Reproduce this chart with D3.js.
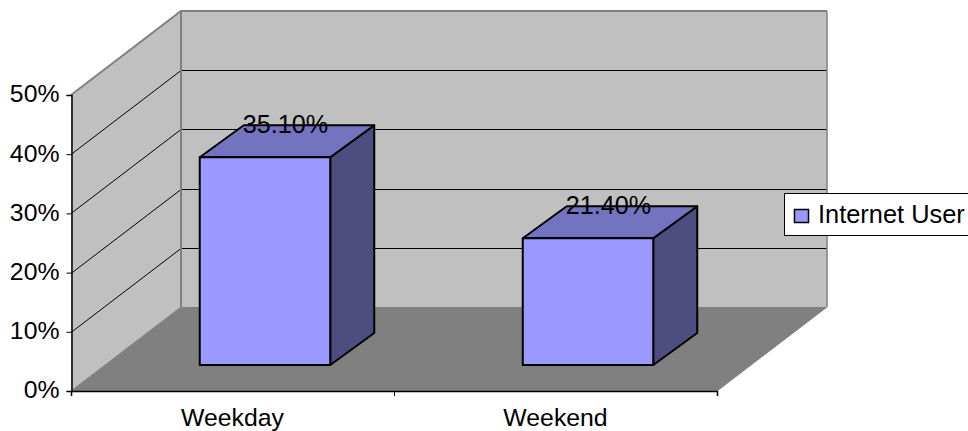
<!DOCTYPE html>
<html>
<head>
<meta charset="utf-8">
<title>Internet User</title>
<script src="https://cdn.jsdelivr.net/npm/d3@7"></script>
<style>
html, body { margin: 0; padding: 0; background: #fff; }
svg { display: block; }
text { font-family: "Liberation Sans", Arial, sans-serif; fill: #000; }
</style>
</head>
<body>
<svg id="chart" width="968" height="431"></svg>
<script>
const categories = ["Weekday", "Weekend"];
const seriesName = "Internet User";
const seriesValues = [35.1, 21.4];
const percentTicks = [0, 10, 20, 30, 40, 50];

const svg = d3.select("#chart");
const fontSize = 24.8;

// Oblique projection: how far the back wall and the bars are pushed by depth.
const wallDepth = { x: 110, y: -84 };
const barInset = { x: 32.5, y: -26 };
const barDepth = { x: 44, y: -32 };

const y = d3.scaleLinear().domain([0, 50]).range([391, 95]);
const x = d3.scaleBand().domain(categories).range([71, 717])
  .paddingInner(0.596).paddingOuter(0.298);
const edges = d3.scalePoint().domain([0, 1, 2]).range([71, 717]);

const left = 71, right = 717, floorY = y(0), topY = y(50);
const poly = (pts, fill, stroke, width) => svg.append("polygon")
  .attr("points", pts.map(p => p.join(",")).join(" "))
  .attr("fill", fill)
  .attr("stroke", stroke || "none")
  .attr("stroke-width", width || 0)
  .attr("stroke-linejoin", "round");

// Side wall, back wall and floor
poly([[left, floorY], [left + wallDepth.x, floorY + wallDepth.y],
      [left + wallDepth.x, topY + wallDepth.y], [left, topY]], "#c0c0c0");
poly([[left + wallDepth.x, topY + wallDepth.y], [right + wallDepth.x, topY + wallDepth.y],
      [right + wallDepth.x, floorY + wallDepth.y], [left + wallDepth.x, floorY + wallDepth.y]], "#c0c0c0");
poly([[left, floorY], [right, floorY], [right + wallDepth.x, floorY + wallDepth.y],
      [left + wallDepth.x, floorY + wallDepth.y]], "#808080");

// Gridlines wrapping the side wall and the back wall
const grid = svg.append("g").attr("fill", "none").attr("stroke", "#000").attr("stroke-width", 1);
percentTicks.filter(t => t > 0 && t < 50).forEach(t => {
  const p = Math.round(y(t)) + 0.5;
  grid.append("polyline").attr("points", [
    [left, p], [left + wallDepth.x, p + wallDepth.y], [right + wallDepth.x, p + wallDepth.y]
  ].map(q => q.join(",")).join(" "));
});

// Wall outlines
const outline = svg.append("g").attr("fill", "none").attr("stroke", "#808080");
outline.append("polyline").attr("stroke-width", 2).attr("points", [
  [left, topY], [left + wallDepth.x, topY + wallDepth.y], [right + wallDepth.x, topY + wallDepth.y]
].map(q => q.join(",")).join(" "));
outline.append("line").attr("stroke-width", 2)
  .attr("x1", left + wallDepth.x).attr("x2", left + wallDepth.x)
  .attr("y1", topY + wallDepth.y).attr("y2", floorY + wallDepth.y);
outline.append("line").attr("stroke-width", 1.5)
  .attr("x1", right + wallDepth.x).attr("x2", right + wallDepth.x)
  .attr("y1", topY + wallDepth.y).attr("y2", floorY + wallDepth.y);
outline.append("line").attr("stroke-width", 1)
  .attr("x1", left).attr("y1", floorY)
  .attr("x2", left + wallDepth.x).attr("y2", floorY + wallDepth.y);
outline.append("line").attr("stroke-width", 1)
  .attr("x1", right).attr("y1", floorY)
  .attr("x2", right + wallDepth.x).attr("y2", floorY + wallDepth.y);

// Axes
const yAxis = svg.append("g").attr("transform", `translate(${left + 0.5},0)`)
  .call(d3.axisLeft(y).tickValues(percentTicks).tickSizeOuter(0).tickSize(5).tickPadding(7)
    .tickFormat(d => d + "%"));
yAxis.selectAll("text").attr("font-size", fontSize).attr("dy", "0.28em");
const xAxis = svg.append("g").attr("transform", `translate(0,${floorY})`)
  .call(d3.axisBottom(d3.scaleLinear().domain([0, 2]).range([left, right]))
    .tickValues(edges.domain()).tickSizeOuter(0).tickSize(5).tickFormat(""));
svg.selectAll(".domain").attr("stroke", "#000").attr("stroke-width", 1.5);
svg.selectAll(".tick line").attr("stroke", "#000");

svg.append("g").selectAll("text").data(categories).join("text")
  .attr("x", d => x(d) + x.bandwidth() / 2)
  .attr("y", 426)
  .attr("text-anchor", "middle")
  .attr("font-size", fontSize)
  .text(d => d);

// Bars: side face, top face, then front face
const barLine = { stroke: "#000", width: 2 };
categories.forEach((c, i) => {
  const v = seriesValues[i];
  const x0 = x(c) + barInset.x, x1 = x0 + x.bandwidth();
  const yb = y(0) + barInset.y, yt = y(v) + barInset.y;
  poly([[x1, yt], [x1 + barDepth.x, yt + barDepth.y], [x1 + barDepth.x, yb + barDepth.y], [x1, yb]],
    "#4d4d80", barLine.stroke, barLine.width);
  poly([[x0, yt], [x0 + barDepth.x, yt + barDepth.y], [x1 + barDepth.x, yt + barDepth.y], [x1, yt]],
    "#7373bf", barLine.stroke, barLine.width);
  poly([[x0, yt], [x1, yt], [x1, yb], [x0, yb]], "#9999ff", barLine.stroke, barLine.width);
});

// Value labels sit over the top faces
const valueFormat = d3.format(".2f");
svg.append("g").selectAll("text").data(seriesValues).join("text")
  .attr("x", (d, i) => x(categories[i]) + barInset.x + x.bandwidth() / 2 + barDepth.x / 2 - 1.5)
  .attr("y", d => y(d) + barInset.y - 24)
  .attr("text-anchor", "middle")
  .attr("font-size", 25.2)
  .text(d => valueFormat(d) + "%");

// Legend
const legend = svg.append("g");
legend.append("rect").attr("x", 784.5).attr("y", 193.5).attr("width", 190).attr("height", 42)
  .attr("fill", "#fff").attr("stroke", "#000").attr("stroke-width", 1);
legend.append("rect").attr("x", 794.5).attr("y", 209.5).attr("width", 14).attr("height", 13)
  .attr("fill", "#9999ff").attr("stroke", "#000").attr("stroke-width", 1.5);
legend.append("text").attr("x", 818).attr("y", 223)
  .attr("font-size", 25.4).text(seriesName);
</script>
</body>
</html>
